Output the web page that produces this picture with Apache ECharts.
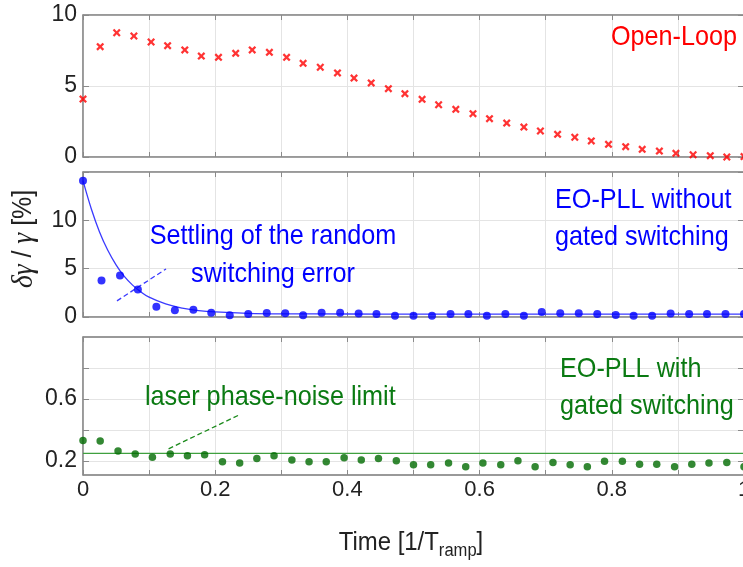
<!DOCTYPE html>
<html>
<head>
<meta charset="utf-8">
<script src="https://cdn.jsdelivr.net/npm/echarts@6/dist/echarts.min.js"></script>
<style>
html,body{margin:0;padding:0;background:#fff;}
#main{width:743px;height:567px;}
</style>
</head>
<body>
<div id="main"></div>
<script>
// ---------- data ----------
const openLoopT = [0, 0.026, 0.051, 0.077, 0.103, 0.128, 0.154, 0.179, 0.205, 0.231, 0.256, 0.282, 0.308, 0.333, 0.359, 0.385, 0.41, 0.436, 0.462, 0.487, 0.513, 0.538, 0.564, 0.59, 0.615, 0.641, 0.667, 0.692, 0.718, 0.744, 0.769, 0.795, 0.821, 0.846, 0.872, 0.897, 0.923, 0.949, 0.974, 1];
const openLoopY = [4.08, 7.77, 8.75, 8.52, 8.10, 7.84, 7.54, 7.11, 7.02, 7.30, 7.54, 7.37, 7.02, 6.60, 6.32, 5.92, 5.56, 5.22, 4.81, 4.46, 4.06, 3.68, 3.36, 3.05, 2.70, 2.39, 2.11, 1.83, 1.60, 1.39, 1.13, 0.89, 0.73, 0.54, 0.42, 0.26, 0.16, 0.09, 0.0, 0.03];

const noGateT = [0, 0.028, 0.056, 0.083, 0.111, 0.139, 0.167, 0.194, 0.222, 0.25, 0.278, 0.306, 0.333, 0.361, 0.389, 0.417, 0.444, 0.472, 0.5, 0.528, 0.556, 0.583, 0.611, 0.639, 0.667, 0.694, 0.722, 0.75, 0.778, 0.806, 0.833, 0.861, 0.889, 0.917, 0.944, 0.972, 1];
const noGateY = [14.1, 3.78, 4.30, 2.84, 1.07, 0.69, 0.76, 0.45, 0.18, 0.31, 0.42, 0.38, 0.18, 0.45, 0.45, 0.35, 0.31, 0.14, 0.14, 0.14, 0.31, 0.31, 0.14, 0.31, 0.14, 0.52, 0.38, 0.38, 0.31, 0.21, 0.14, 0.14, 0.35, 0.31, 0.31, 0.31, 0.31];

const fitT = [0, 0.0125, 0.025, 0.0375, 0.05, 0.0625, 0.075, 0.0875, 0.1, 0.125, 0.15, 0.175, 0.2, 0.25, 0.3, 0.4, 0.5, 0.6, 0.7, 0.8, 0.9, 1.0];
const fitY = [14.1, 11.2, 8.8, 6.9, 5.4, 4.2, 3.3, 2.6, 2.05, 1.35, 0.92, 0.66, 0.52, 0.38, 0.33, 0.31, 0.3, 0.3, 0.3, 0.3, 0.3, 0.3];

const gatedT = [0, 0.026, 0.053, 0.079, 0.105, 0.132, 0.158, 0.184, 0.211, 0.237, 0.263, 0.289, 0.316, 0.342, 0.368, 0.395, 0.421, 0.447, 0.474, 0.5, 0.526, 0.553, 0.579, 0.605, 0.632, 0.658, 0.684, 0.711, 0.737, 0.763, 0.789, 0.816, 0.842, 0.868, 0.895, 0.921, 0.947, 0.974, 1];
const gatedY = [0.333, 0.329, 0.264, 0.245, 0.225, 0.245, 0.234, 0.241, 0.195, 0.187, 0.217, 0.234, 0.206, 0.195, 0.195, 0.221, 0.206, 0.217, 0.202, 0.176, 0.176, 0.187, 0.163, 0.187, 0.176, 0.202, 0.163, 0.191, 0.176, 0.163, 0.198, 0.198, 0.180, 0.180, 0.163, 0.180, 0.187, 0.191, 0.163];

const limitT = [0, 1];
const limitY = [0.25, 0.25];

const settleDashT = [0.0514, 0.1256];
const settleDashY = [1.67, 4.97];
const limitDashT = [0.1295, 0.238];
const limitDashY = [0.279, 0.501];

const xLabelTicks = [0, 0.2, 0.4, 0.6, 0.8, 1];
const topYTicks = [0, 5, 10];
const midYTicks = [0, 5, 10];
const botYTicks = [0.2, 0.4, 0.6, 0.8];
const botYLabels = [0.2, 0.6];

// ---------- style ----------
const FONT = "'Liberation Sans', Arial, Helvetica, sans-serif";
const axisColor = '#8a8a8a';
const gridColor = '#e4e4e4';
const labelColor = '#222222';
const red = '#ff0000';
const blue = '#0000ff';
const fitBlue = '#3a3aff';
const greenDot = '#006a00';
const greenTxt = '#0a7a12';
const greenLine = '#3fa03f';

const zip = (a, b) => a.map((v, i) => [v, b[i]]);

const grids = [
  {left: 83, right: -1, top: 15, height: 142},
  {left: 83, right: -1, top: 172, height: 145},
  {left: 83, right: -1, top: 337, height: 138}
].map(g => Object.assign(g, {show: true, borderColor: axisColor, borderWidth: 1, backgroundColor: 'transparent', containLabel: false, outerBoundsMode: 'none'}));

const xAxes = [];
const yAxes = [];
for (let i = 0; i < 3; i++) {
  xAxes.push({
    gridIndex: i, type: 'value', min: 0, max: 1, interval: 0.1, position: 'bottom',
    axisLine: {show: true, onZero: false, lineStyle: {color: axisColor, width: 1.5}},
    axisTick: {show: true, inside: true, length: 5, lineStyle: {color: axisColor}},
    axisLabel: {show: i === 2, customValues: xLabelTicks, margin: 4, fontSize: 22, fontFamily: FONT, color: labelColor,
      formatter: v => String(+v.toFixed(1))},
    splitLine: {show: true, lineStyle: {color: gridColor, width: 1}}
  });
  xAxes.push({
    gridIndex: i, type: 'value', min: 0, max: 1, interval: 0.1, position: 'top',
    axisLine: {show: true, onZero: false, lineStyle: {color: axisColor, width: 1.5}},
    axisTick: {show: true, inside: true, length: 5, lineStyle: {color: axisColor}},
    axisLabel: {show: false}, splitLine: {show: false}
  });
}
const yCfg = [
  {min: 0, max: 10, interval: 5, ticks: topYTicks, labels: topYTicks},
  {min: 0, max: 15, interval: 5, ticks: [0, 5, 10, 15], labels: midYTicks},
  {min: 0.11, max: 1.0, interval: 0.1, ticks: botYTicks, labels: botYLabels}
];
yCfg.forEach((c, i) => {
  yAxes.push({
    gridIndex: i, type: 'value', min: c.min, max: c.max, interval: c.interval, position: 'left',
    axisLine: {show: true, onZero: false, lineStyle: {color: axisColor, width: 1.5}},
    axisTick: {show: true, inside: true, length: 6, customValues: c.ticks, lineStyle: {color: axisColor}},
    axisLabel: {show: true, customValues: c.labels, margin: 6, fontSize: 23, fontFamily: FONT, color: labelColor,
      formatter: v => String(+(+v).toFixed(1))},
    splitLine: {show: true, lineStyle: {color: gridColor, width: 1}}
  });
  yAxes.push({
    gridIndex: i, type: 'value', min: c.min, max: c.max, interval: c.interval, position: 'right',
    axisLine: {show: true, onZero: false, lineStyle: {color: axisColor, width: 1.5}},
    axisTick: {show: true, inside: true, length: 6, customValues: c.ticks, lineStyle: {color: axisColor}},
    axisLabel: {show: false}, splitLine: {show: false}
  });
});

const xMark = 'path://M2,0 L5,3 L8,0 L10,2 L7,5 L10,8 L8,10 L5,7 L2,10 L0,8 L3,5 L0,2 Z';

const series = [
  {type: 'scatter', xAxisIndex: 0, yAxisIndex: 0, data: zip(openLoopT, openLoopY), symbol: xMark, symbolSize: 8,
    itemStyle: {color: red}, clip: false, z: 5},
  {type: 'line', xAxisIndex: 2, yAxisIndex: 2, data: zip(fitT, fitY), smooth: 0.4, showSymbol: false, symbol: 'none',
    lineStyle: {color: fitBlue, width: 1.3}, z: 3},
  {type: 'line', xAxisIndex: 2, yAxisIndex: 2, data: zip(settleDashT, settleDashY), showSymbol: false, symbol: 'none',
    lineStyle: {color: fitBlue, width: 1.3, type: [5, 3]}, z: 3},
  {type: 'scatter', xAxisIndex: 2, yAxisIndex: 2, data: zip(noGateT, noGateY), symbol: 'circle', symbolSize: 8,
    itemStyle: {color: blue}, clip: false, z: 5},
  {type: 'line', xAxisIndex: 4, yAxisIndex: 4, data: zip(limitT, limitY), showSymbol: false, symbol: 'none',
    lineStyle: {color: greenLine, width: 1.3}, z: 3},
  {type: 'line', xAxisIndex: 4, yAxisIndex: 4, data: zip(limitDashT, limitDashY), showSymbol: false, symbol: 'none',
    lineStyle: {color: '#1b8a1b', width: 1.3, type: [5, 3]}, z: 3},
  {type: 'scatter', xAxisIndex: 4, yAxisIndex: 4, data: zip(gatedT, gatedY), symbol: 'circle', symbolSize: 7.5,
    itemStyle: {color: greenDot}, clip: false, z: 5}
];

const txt = (x, y, text, fill, align, lh) => ({
  type: 'text', x: x, y: y, z: 50, silent: true, scaleX: 0.9,
  style: {text: text, fill: fill, fontSize: 28, fontFamily: FONT, align: align, verticalAlign: 'middle', lineHeight: lh || 32}
});

const graphic = [
  txt(737, 37, 'Open-Loop', red, 'right'),
  txt(555, 219, 'EO-PLL without\ngated switching', blue, 'left', 37),
  txt(273, 255, 'Settling of the random\nswitching error', blue, 'center', 38),
  txt(145, 397, 'laser phase-noise limit', greenTxt, 'left'),
  txt(560, 388, 'EO-PLL with\ngated switching', greenTxt, 'left', 37),
  {type: 'text', x: 24, y: 239, rotation: Math.PI / 2, z: 50, silent: true, scaleX: 0.92,
    style: {text: '{g|δγ} / {g|γ} [%]', fill: labelColor, fontSize: 27, fontFamily: FONT, align: 'center', verticalAlign: 'middle',
      rich: {g: {fontFamily: "'Liberation Serif', 'DejaVu Serif', serif", fontStyle: 'italic', fontSize: 30, fill: labelColor}}}},
  {type: 'text', x: 411, y: 545, z: 50, silent: true, scaleX: 0.92,
    style: {text: '{a|Time [1/T}{s|ramp}{a|]}', fill: labelColor, fontFamily: FONT, align: 'center', verticalAlign: 'middle',
      rich: {a: {fontSize: 26, fontFamily: FONT, padding: [0, 0, 5, 0], verticalAlign: 'bottom', fill: labelColor},
             s: {fontSize: 18, fontFamily: FONT, verticalAlign: 'bottom', fill: labelColor}}}}
];

const chart = echarts.init(document.getElementById('main'), null, {renderer: 'canvas'});
chart.setOption({
  animation: false,
  backgroundColor: '#ffffff',
  grid: grids,
  xAxis: xAxes,
  yAxis: yAxes,
  series: series,
  graphic: graphic
});
</script>
</body>
</html>
